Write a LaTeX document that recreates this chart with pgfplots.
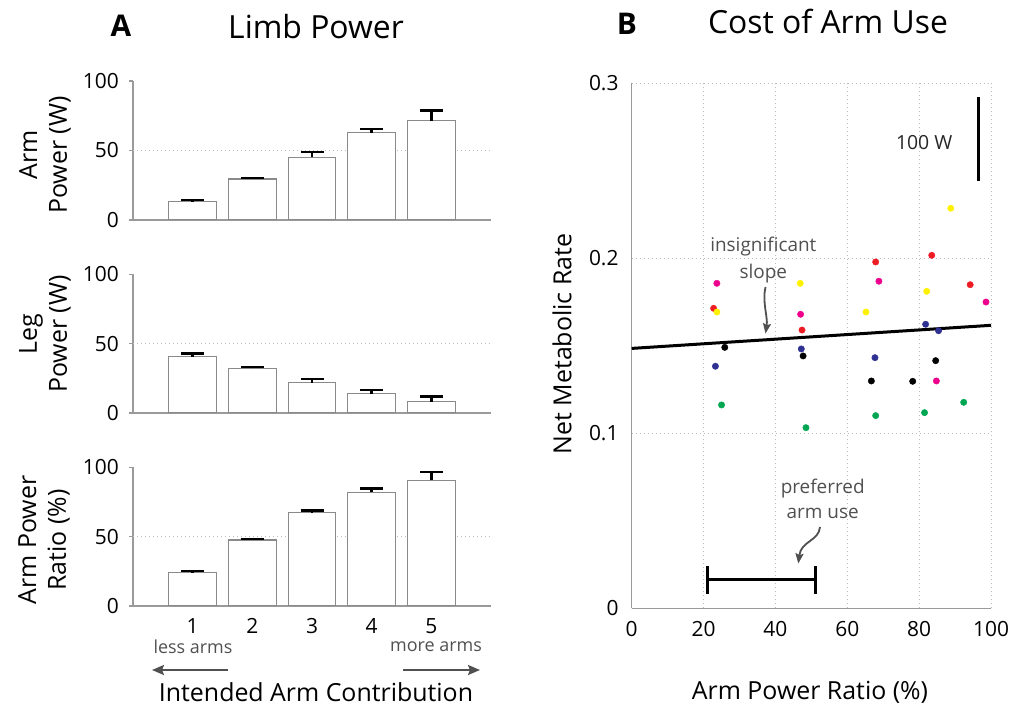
\documentclass[border=0pt]{standalone}
\usepackage{fontspec}
\setmainfont{Open Sans}
\usepackage{pgfplots}
\usepackage{pgfplotstable}
\pgfplotsset{compat=1.18}
\usetikzlibrary{arrows.meta}

\definecolor{axisgray}{HTML}{9A9A9A}
\definecolor{bargray}{HTML}{8A8A8A}
\definecolor{gridgray}{HTML}{BDBDBD}
\definecolor{notegray}{HTML}{505050}
\definecolor{dotred}{HTML}{ED1C24}
\definecolor{dotpink}{HTML}{EC008C}
\definecolor{dotyellow}{HTML}{FFF200}
\definecolor{dotblue}{HTML}{2E3192}
\definecolor{dotgreen}{HTML}{00A651}

% Panel A data: mean and (upper) standard error for each condition
\pgfplotstableread{
x  y     e
1  13.2  1.2
2  29.5  0.7
3  45.1  4.0
4  62.8  2.7
5  71.4  7.5
}\armpower
\pgfplotstableread{
x  y     e
1  40.6  2.2
2  32.2  1.0
3  21.9  2.6
4  13.9  2.7
5   8.2  3.8
}\legpower
\pgfplotstableread{
x  y     e
1  24.0  1.2
2  47.6  0.7
3  67.3  1.5
4  82.0  2.6
5  90.6  5.8
}\powerratio

\pgfplotsset{
  barpanel/.style={
    anchor=south west, scale only axis, width=358bp, height=138.7bp,
    xmin=0, xmax=6, ymin=0, ymax=100,
    axis x line*=bottom, axis y line*=left,
    axis line style={axisgray, line width=1.2bp},
    xtick=\empty, ytick={0,50,100},
    extra y ticks={50}, extra y tick labels={},
    extra y tick style={grid=major, major tick length=0pt},
    grid style={gridgray, line width=0.8bp, dash pattern=on 1bp off 3bp},
    tick style={axisgray, line width=1.2bp},
    major tick length=4bp, tick align=outside,
    /pgf/number format/assume math mode=true,
    yticklabel style={font=\fontsize{21}{21}\selectfont, inner sep=0pt, xshift=-10bp},
  },
  barstyle/.style={
    ybar, bar width=0.8, fill=white, draw=bargray, line width=1.2bp,
    error bars/.cd, y dir=plus, y explicit,
    error mark=|,
    error bar style={black, line width=2.4bp},
    error mark options={black, line width=2.4bp, mark size=11.5bp},
  },
  dots/.style={only marks, mark=*, mark size=3.2bp, color=#1,
    mark options={draw=none, fill=#1}},
}

\begin{document}
\begin{tikzpicture}[x=1bp, y=1bp]
\path[use as bounding box] (0,0) rectangle (1010,707);

% ---------- Panel A ----------
\begin{axis}[barpanel, at={(133bp,487bp)}, height=139bp]
  \addplot[barstyle] table[x=x, y=y, y error=e] {\armpower};
\end{axis}

\begin{axis}[barpanel, at={(133bp,294bp)}]
  \addplot[barstyle] table[x=x, y=y, y error=e] {\legpower};
\end{axis}

\begin{axis}[barpanel, at={(133bp,101bp)},
    xtick={1,2,3,4,5}, xticklabels={1,2,3,4,5},
    xticklabel style={font=\fontsize{21}{21}\selectfont, inner sep=0pt, yshift=-8bp},
    x tick style={draw=none}]
  \addplot[barstyle] table[x=x, y=y, y error=e] {\powerratio};
\end{axis}

\node[font=\fontsize{30}{30}\selectfont\bfseries, anchor=base] at (121,670) {A};
\node[font=\fontsize{32}{32}\selectfont, anchor=base] at (316,668) {Limb Power};

\node[rotate=90, align=center, font=\fontsize{25}{30}\selectfont] at (45,552) {Arm\\Power (W)};
\node[rotate=90, align=center, font=\fontsize{25}{30}\selectfont] at (45,373) {Leg\\Power (W)};
\node[rotate=90, align=center, font=\fontsize{25}{30}\selectfont] at (44,167) {Arm Power\\Ratio (\%)};

\node[font=\fontsize{18}{18}\selectfont, text=notegray] at (193,60) {less arms};
\node[font=\fontsize{18}{18}\selectfont, text=notegray] at (436,60) {more arms};
\draw[notegray, line width=2.2bp, -{Stealth[length=12bp, width=10bp, inset=2bp]}] (228,37) -- (152,37);
\draw[notegray, line width=2.2bp, -{Stealth[length=12bp, width=10bp, inset=2bp]}] (403,37) -- (480,37);
\node[font=\fontsize{25}{25}\selectfont, anchor=base] at (316,5) {Intended Arm Contribution};

% ---------- Panel B ----------
\begin{axis}[
    at={(631.7bp,98.7bp)}, anchor=south west, scale only axis,
    width=359.3bp, height=525bp,
    xmin=0, xmax=100, ymin=0, ymax=0.3,
    axis x line*=bottom, axis y line*=left,
    axis line style={axisgray, line width=1.2bp},
    xtick={0,20,40,60,80,100},
    ytick={0,0.1,0.2,0.3}, yticklabels={0,0.1,0.2,0.3},
    major tick length=0pt,
    grid=major,
    grid style={gridgray, line width=0.8bp, dash pattern=on 1bp off 3bp},
    /pgf/number format/assume math mode=true,
    ticklabel style={font=\fontsize{21}{21}\selectfont, inner sep=0pt},
    xticklabel style={yshift=-13bp},
    yticklabel style={xshift=-13bp},
  ]
  % regression line
  \addplot[black, line width=3bp] coordinates {(0,0.1485) (100,0.1617)};

  \addplot[dots=dotred]    coordinates {(22.8,0.1714) (47.4,0.1590) (67.9,0.1979) (83.5,0.2017) (94.2,0.1849)};
  \addplot[dots=dotpink]   coordinates {(23.7,0.1857) (47.0,0.1680) (68.8,0.1869) (84.8,0.1299) (98.6,0.1750)};
  \addplot[dots=dotyellow] coordinates {(23.7,0.1693) (46.9,0.1857) (65.2,0.1693) (82.1,0.1811) (88.8,0.2286)};
  \addplot[dots=dotblue]   coordinates {(23.3,0.1383) (47.2,0.1482) (67.7,0.1432) (81.8,0.1623) (85.4,0.1586)};
  \addplot[dots=black]     coordinates {(25.9,0.1491) (47.7,0.1442) (66.7,0.1299) (78.2,0.1297) (84.6,0.1415)};
  \addplot[dots=dotgreen]  coordinates {(25.0,0.1162) (48.5,0.1032) (67.9,0.1101) (81.5,0.1118) (92.4,0.1177)};

  % scale bar
  \addplot[black, line width=3bp] coordinates {(96.5,0.2442) (96.5,0.2923)};
  \node[font=\fontsize{19.5}{19.5}\selectfont, text=black!85] at (axis cs:81.4,0.266) {100 W};

  % preferred range of arm use
  \addplot[black, line width=3bp] coordinates {(21.0,0.0167) (51.2,0.0167)};
  \addplot[black, line width=3bp] coordinates {(21.0,0.0082) (21.0,0.0240)};
  \addplot[black, line width=3bp] coordinates {(51.2,0.0082) (51.2,0.0240)};
\end{axis}

\node[font=\fontsize{30}{30}\selectfont\bfseries, anchor=base] at (627,672) {B};
\node[font=\fontsize{32}{32}\selectfont, anchor=base] at (828,673) {Cost of Arm Use};
\node[rotate=90, font=\fontsize{25}{25}\selectfont] at (562,363) {Net Metabolic Rate};
\node[font=\fontsize{25}{25}\selectfont, anchor=base] at (810,7) {Arm Power Ratio (\%)};

\node[align=center, font=\fontsize{19}{26.6}\selectfont, text=notegray] at (763.3,447) {insignificant\\slope};
\draw[notegray, line width=1.8bp, -{Stealth[length=10bp, width=8bp, inset=1.5bp]}]
  (765.5,420) .. controls (762,405) and (768,390) .. (765.5,373.5);
\node[align=center, font=\fontsize{19}{25}\selectfont, text=notegray] at (822.7,208) {preferred\\arm use};
\draw[notegray, line width=1.8bp, -{Stealth[length=10bp, width=8bp, inset=1.5bp]}]
  (820,180) .. controls (819,166) and (801,166) .. (798.3,143.5);
\end{tikzpicture}
\end{document}
